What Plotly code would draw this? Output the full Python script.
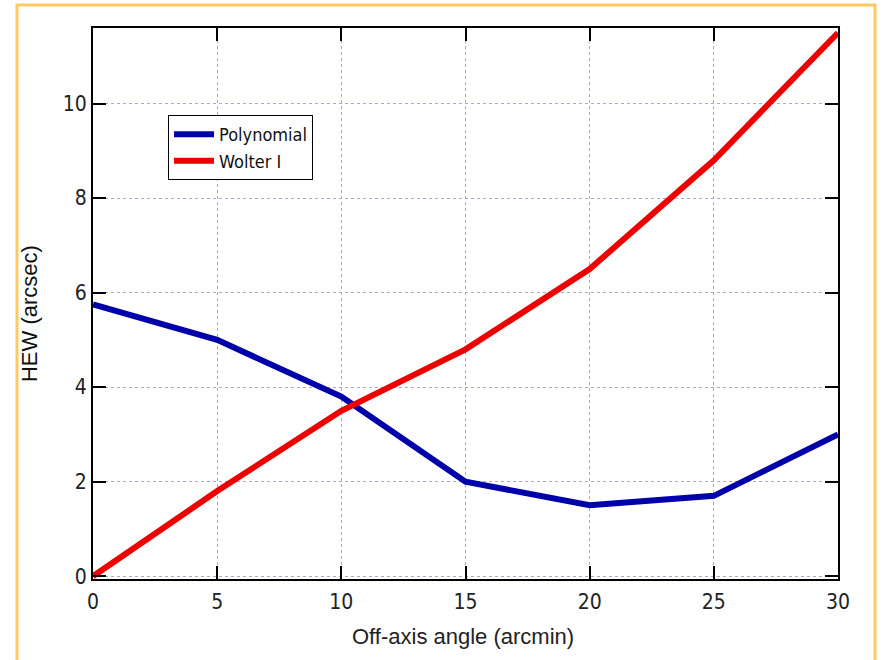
import plotly.graph_objects as go

# Off-axis angle (arcmin) and half-energy width (arcsec)
angles = [0, 5, 10, 15, 20, 25, 30]
hew_polynomial = [5.75, 5.0, 3.8, 2.0, 1.5, 1.7, 3.0]
hew_wolter = [0.0, 1.8, 3.5, 4.8, 6.5, 8.8, 11.5]

x_ticks = [0, 5, 10, 15, 20, 25, 30]
y_ticks = [0, 2, 4, 6, 8, 10]

NARROW = "Liberation Sans Narrow, DejaVu Sans Condensed, Arial Narrow, sans-serif"
SANS = "Liberation Sans, Arial, sans-serif"

fig = go.Figure()
fig.add_trace(go.Scatter(x=angles, y=hew_polynomial, mode="lines", name="Polynomial",
                         line=dict(color="#0000AA", width=6)))
fig.add_trace(go.Scatter(x=angles, y=hew_wolter, mode="lines", name="Wolter I",
                         line=dict(color="#EE0000", width=6)))

axis_common = dict(
    showline=True, linecolor="black", linewidth=2, mirror="ticks",
    ticks="inside", ticklen=13, tickwidth=2, tickcolor="black",
    showgrid=True, gridcolor="#a8a8c8", gridwidth=1, griddash="dot",
    zeroline=False,
    tickfont=dict(family=NARROW, size=21, color="#222222"),
)

fig.update_xaxes(range=[0, 30], tickvals=x_ticks, ticklabelstandoff=3, **axis_common)
fig.update_yaxes(range=[-0.06, 11.6], tickvals=y_ticks, ticklabelstandoff=0, **axis_common)

fig.update_layout(
    width=882, height=660,
    margin=dict(l=93, r=44, t=28, b=81),
    paper_bgcolor="white", plot_bgcolor="white",
    showlegend=True,
    legend=dict(x=0.1007, y=0.842, xanchor="left", yanchor="top",
                bgcolor="white", bordercolor="black", borderwidth=1,
                font=dict(family=NARROW, size=18, color="#111111"),
                tracegroupgap=0, itemwidth=40),
    annotations=[
        dict(text="Off-axis angle (arcmin)", xref="paper", yref="paper",
             x=0.497, y=-0.105, xanchor="center", yanchor="middle", showarrow=False,
             font=dict(family=SANS, size=22, color="#222222")),
        dict(text="HEW (arcsec)", xref="paper", yref="paper",
             x=-0.0845, y=0.481, xanchor="center", yanchor="middle", showarrow=False,
             textangle=-90, font=dict(family=SANS, size=22, color="#111111")),
    ],
    shapes=[dict(type="rect", xref="paper", yref="paper",
                 x0=-0.102, x1=1.0497, y0=-0.2, y1=1.0417,
                 line=dict(color="#FFC966", width=3), layer="below")],
)

fig.write_html("out.html")
